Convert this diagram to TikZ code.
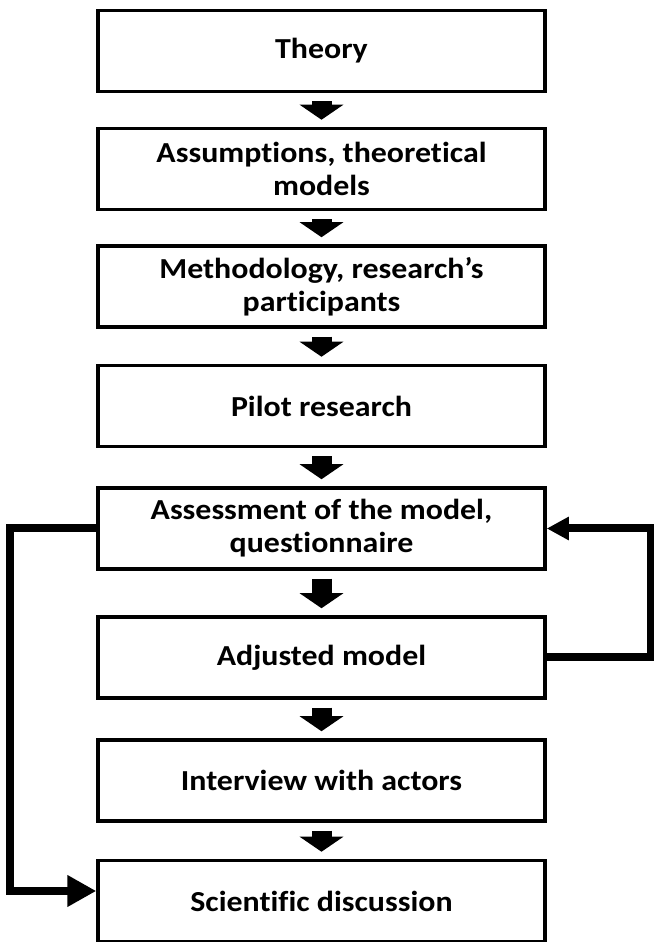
\documentclass[tikz,border=0pt]{standalone}
\usepackage{fontspec}
\setmainfont[FakeStretch=1.1,Ligatures=NoCommon]{Carlito}
\usetikzlibrary{arrows.meta,calc}
\begin{document}
\begin{tikzpicture}[x=1pt,y=1pt,
  stepbox/.style={draw=black,line width=3.5pt,minimum width=447pt,minimum height=81pt,
    inner sep=0pt,align=center,font=\fontsize{29}{33}\selectfont\bfseries},
  blockarrow/.style={line width=20pt,-{Triangle[width=43pt,length=15pt]}},
  loopline/.style={line width=8pt}
]
\useasboundingbox (0,0) rectangle (653,942);
\node[stepbox] (b1) at (321.5,942-51) {Theory};
\node[stepbox] (b2) at (321.5,942-169) {Assumptions, theoretical\\models};
\node[stepbox] (b3) at (321.5,942-286.5) {Methodology, research’s\\participants};
\node[stepbox] (b4) at (321.5,942-406) {Pilot research};
\node[stepbox] (b5) at (321.5,942-528.5) {Assessment of the model,\\questionnaire};
\node[stepbox] (b6) at (321.5,942-657.5) {Adjusted model};
\node[stepbox] (b7) at (321.5,942-780.5) {Interview with actors};
\node[stepbox] (b8) at (321.5,942-901) {Scientific discussion};
\foreach \a/\b in {b1/b2,b2/b3,b3/b4,b4/b5,b5/b6,b6/b7,b7/b8}{
  \draw[blockarrow] ($(\a.south)+(0,-8)$) -- ($(\b.north)+(0,7)$);
}
\draw[loopline,-{Triangle[width=22pt,length=22pt]}] (b6.east) -- ++(104.5,0) coordinate (r1) |- (b5.east);
\draw[loopline,-{Triangle[width=30pt,length=29pt]}] (b5.west) -- ++(-86.5,0) coordinate (l1) |- ($(b8.west)+(0,10)$);
\end{tikzpicture}
\end{document}
